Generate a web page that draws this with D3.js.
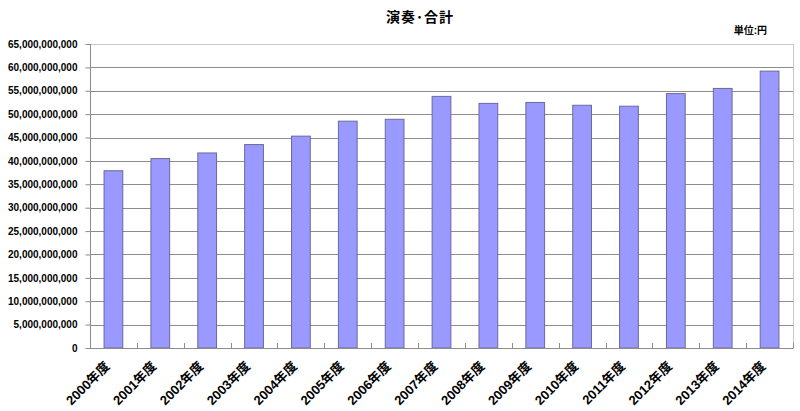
<!DOCTYPE html>
<html>
<head>
<meta charset="utf-8">
<script src="https://cdn.jsdelivr.net/npm/d3@7"></script>
<style>
  body { margin: 0; background: #fff; }
  svg text { font-family: "Liberation Sans", "Noto Sans CJK JP", sans-serif; font-weight: bold; fill: #000; }
  .grid line { stroke: #8c8c8c; }
  .axis path, .axis line { stroke: #8c8c8c; }
</style>
</head>
<body>
<div id="chart"></div>
<script>
var years = ['2000年度', '2001年度', '2002年度', '2003年度', '2004年度', '2005年度', '2006年度',
             '2007年度', '2008年度', '2009年度', '2010年度', '2011年度', '2012年度', '2013年度', '2014年度'];
var values = [37.9e9, 40.5e9, 41.7e9, 43.5e9, 45.3e9, 48.5e9, 48.9e9,
              53.8e9, 52.3e9, 52.5e9, 51.9e9, 51.7e9, 54.4e9, 55.5e9, 59.2e9];
var yTicks = [0, 5e9, 10e9, 15e9, 20e9, 25e9, 30e9, 35e9, 40e9, 45e9, 50e9, 55e9, 60e9, 65e9];
var title = '演奏･合計';
var unit = '単位:円';

var margin = {top: 44, right: 7, bottom: 63, left: 90};
var w = 800, h = 411;
var width = w - margin.left - margin.right,
    height = h - margin.top - margin.bottom;

var svg = d3.select('#chart').append('svg')
  .attr('width', w)
  .attr('height', h);

var x = d3.scaleBand()
  .domain(years)
  .range([margin.left, margin.left + width])
  .paddingInner(0.6)
  .paddingOuter(0.3);

var band = d3.scaleBand().domain(years).range([margin.left, margin.left + width]);

var y = d3.scaleLinear()
  .domain([0, 65e9])
  .range([margin.top + height, margin.top]);

// plot frame (light)
svg.append('rect')
  .attr('x', margin.left + 0.5)
  .attr('y', margin.top + 0.5)
  .attr('width', width)
  .attr('height', height)
  .style('fill', 'none')
  .style('stroke', '#c8c8c8');

// gridlines
svg.append('g')
  .attr('class', 'grid')
  .selectAll('line')
  .data(yTicks.filter(function(d) { return d > 0 && d < 65e9; }))
  .enter()
  .append('line')
  .attr('x1', margin.left)
  .attr('x2', margin.left + width)
  .attr('y1', function(d) { return Math.round(y(d)) + 0.5; })
  .attr('y2', function(d) { return Math.round(y(d)) + 0.5; });

// bars
svg.selectAll('rect.bar')
  .data(values)
  .enter()
  .append('rect')
  .attr('class', 'bar')
  .attr('x', function(d, i) { return x(years[i]); })
  .attr('width', x.bandwidth())
  .attr('y', function(d) { return y(d); })
  .attr('height', function(d) { return y(0) - y(d); })
  .style('fill', '#9999ff')
  .style('stroke', '#6a6a9a')
  .style('stroke-width', 1);

// y axis
var yAxis = d3.axisLeft(y)
  .tickValues(yTicks)
  .tickSize(5)
  .tickPadding(8)
  .tickFormat(d3.format(','));

svg.append('g')
  .attr('class', 'axis y')
  .attr('transform', 'translate(' + (margin.left + 0.5) + ',0)')
  .call(yAxis)
  .call(function(g) { g.select('.domain').remove(); })
  .selectAll('text')
  .style('font-size', '10px');

svg.append('line')
  .attr('x1', margin.left + 0.5)
  .attr('x2', margin.left + 0.5)
  .attr('y1', margin.top)
  .attr('y2', margin.top + height)
  .style('stroke', '#8c8c8c');

// x axis: ticks at category boundaries
var xg = svg.append('g').attr('class', 'axis x');
xg.append('line')
  .attr('x1', margin.left)
  .attr('x2', margin.left + width)
  .attr('y1', y(0) + 0.5)
  .attr('y2', y(0) + 0.5);
xg.selectAll('line.tick')
  .data(years)
  .enter()
  .append('line')
  .attr('class', 'tick')
  .attr('x1', function(d) { return Math.round(band(d) + band.bandwidth()) + 0.5; })
  .attr('x2', function(d) { return Math.round(band(d) + band.bandwidth()) + 0.5; })
  .attr('y1', y(0))
  .attr('y2', y(0) - 5);

xg.selectAll('text')
  .data(years)
  .enter()
  .append('text')
  .attr('transform', function(d) {
    return 'translate(' + (band(d) + band.bandwidth() / 2 - 3) + ',' + (y(0) + 19) + ') rotate(-45)';
  })
  .attr('text-anchor', 'end')
  .style('font-size', '13px')
  .text(function(d) { return d; });

// titles
svg.append('text')
  .attr('x', 386)
  .attr('y', 22)
  .attr('text-anchor', 'start')
  .style('font-size', '14px')
  .style('letter-spacing', '1px')
  .text(title);

svg.append('text')
  .attr('x', 767)
  .attr('y', 34)
  .attr('text-anchor', 'end')
  .style('font-size', '10px')
  .text(unit);
</script>
</body>
</html>
